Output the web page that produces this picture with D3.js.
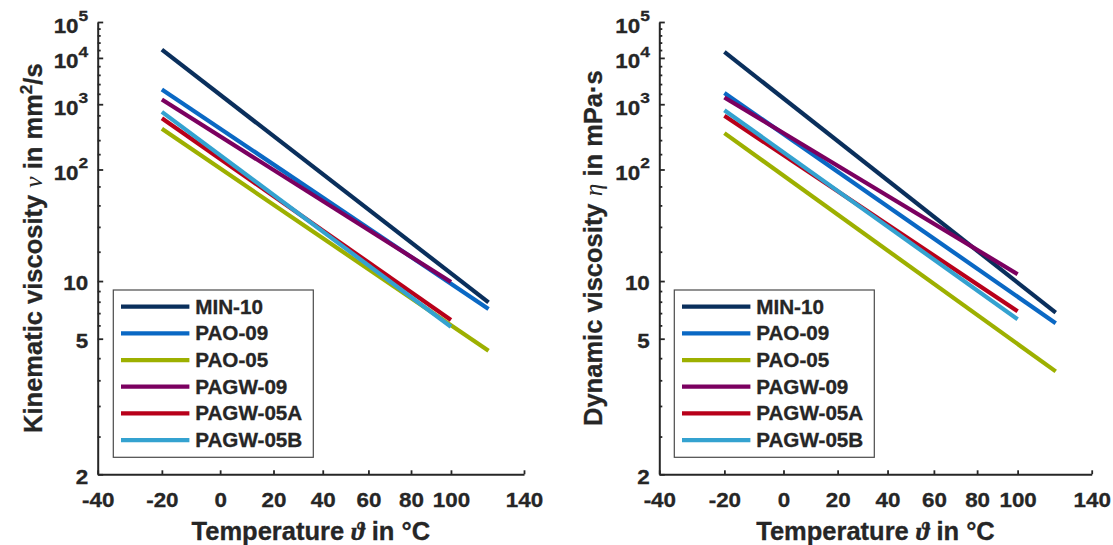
<!DOCTYPE html>
<html>
<head>
<meta charset="utf-8">
<script src="https://cdn.jsdelivr.net/npm/d3@7"></script>
<style>
  html, body { margin: 0; padding: 0; background: #fff; }
  svg text { font-family: "Liberation Sans", Arial, sans-serif; font-weight: bold; fill: #262626; stroke: #262626; stroke-width: 0.3px; }
  .greek { font-family: "Liberation Serif", "DejaVu Serif", serif; font-style: italic; font-weight: normal; stroke-width: 0; }
  .greek-bold { font-family: "Liberation Serif", "DejaVu Serif", serif; font-style: italic; font-weight: bold; }
</style>
</head>
<body>
<svg id="chart" width="1113" height="545"></svg>
<script>
// Oil grades, legend order
const oils = ["MIN-10", "PAO-09", "PAO-05", "PAGW-09", "PAGW-05A", "PAGW-05B"];
const oilColors = ["#0a2f5c", "#0a68c4", "#9db000", "#7b0060", "#b8001a", "#34a2d0"];

// Temperature range covered by each curve (°C)
const tempStart = [-20, -20, -20, -20, -20, -20];
const tempEnd   = [120, 120, 120, 100, 100, 100];

// Kinematic viscosity (mm²/s) at start and end temperature
const kinAtStart = [16200, 1940, 376, 1230, 564, 727];
const kinAtEnd   = [7.52, 6.93, 4.45, 9.87, 6.10, 5.66];

// Dynamic viscosity (mPa·s) at start and end temperature
const dynAtStart = [14200, 1650, 321, 1346, 622, 778];
const dynAtEnd   = [6.64, 5.88, 3.72, 11.05, 6.74, 6.15];

// Axis ticks
const tempTicks = [-40, -20, 0, 20, 40, 60, 80, 100, 140];
const viscTicks = [2, 5, 10, 100, 1000, 10000, 100000];
const viscTickLabels = [["2", null], ["5", null], ["10", null], ["10", "2"], ["10", "3"], ["10", "4"], ["10", "5"]];

// Temperature axis is logarithmic in (ϑ + offset); viscosity axis is log(log(v))
const T_OFFSET = 228;
const LL = v => Math.log10(Math.log10(v));

const svg = d3.select("#chart");
const INK = "#262626";
const TICK_FS = 20, TICK_SX = 1.12;

const panels = [
  { x0: 97.7, x1: 524, start: kinAtStart, end: kinAtEnd, legendX: 113.3,
    ylabX: 41.5, ylab: ["Kinematic viscosity ", "ν", " in mm", "2", "/s"] },
  { x0: 659.3, x1: 1091.7, start: dynAtStart, end: dynAtEnd, legendX: 674.3,
    ylabX: 602, ylab: ["Dynamic viscosity ", "η", " in mPa·s"] }
];

const yTop = 22, yBot = 474.3;

panels.forEach(p => {
  const g = svg.append("g");
  const xs = d3.scaleLog().domain([-40 + T_OFFSET, 140 + T_OFFSET]).range([p.x0, p.x1]);
  const x = t => xs(t + T_OFFSET);
  const ys = d3.scaleLinear().domain([LL(2), LL(1e5)]).range([yBot, yTop]);
  const y = v => ys(LL(v));

  // minor ticks: four per interval, evenly spaced in log10(v)
  const minor = [];
  for (let i = 0; i < viscTicks.length - 1; i++) {
    const a = Math.log10(viscTicks[i]), b = Math.log10(viscTicks[i + 1]);
    for (let k = 1; k <= 4; k++) minor.push(Math.pow(10, a + (b - a) * k / 5));
  }

  // y axis (minor ticks, then major ticks with domain line)
  const yMinor = g.append("g").attr("transform", `translate(${p.x0},0)`)
    .call(d3.axisLeft(ys).tickValues(minor.map(LL)).tickSizeInner(-3).tickSizeOuter(0).tickFormat(() => ""));
  yMinor.select(".domain").remove();
  const yMajor = g.append("g").attr("transform", `translate(${p.x0},0)`)
    .call(d3.axisLeft(ys).tickValues(viscTicks.map(LL)).tickSizeInner(-5.5).tickSizeOuter(0).tickFormat(() => ""));
  [yMinor, yMajor].forEach(ax => {
    ax.selectAll("line").attr("stroke", INK).attr("stroke-width", 1.8);
    ax.selectAll("path").attr("stroke", INK).attr("stroke-width", 2);
  });

  // y tick labels (right edge 9.5 px left of the axis)
  viscTicks.forEach((v, i) => {
    const [base, sup] = viscTickLabels[i];
    const t = g.append("text").attr("font-size", TICK_FS).attr("text-anchor", "end");
    if (sup) {
      t.attr("transform", `translate(${p.x0 - 9.5},${y(v) + 10.5}) scale(${TICK_SX},1)`);
      t.append("tspan").text(base);
      t.append("tspan").attr("dy", -11.8).attr("font-size", 15.5).text(sup);
    } else {
      t.attr("transform", `translate(${p.x0 - 9.5},${y(v) + 9.2}) scale(${TICK_SX},1)`).text(base);
    }
  });

  // x axis
  const xAx = g.append("g").attr("transform", `translate(0,${yBot})`)
    .call(d3.axisBottom(xs).tickValues(tempTicks.map(t => t + T_OFFSET))
      .tickSizeInner(-4).tickSizeOuter(0).tickFormat(d => String(Math.round(d - T_OFFSET))));
  xAx.selectAll("line").attr("stroke", INK).attr("stroke-width", 1.8);
  xAx.select(".domain").attr("stroke", INK).attr("stroke-width", 2);
  xAx.selectAll("text").attr("font-size", TICK_FS).attr("fill", INK)
    .attr("y", null).attr("dy", null)
    .attr("transform", `translate(0,32.6) scale(${TICK_SX},1)`)
    .style("font-family", '"Liberation Sans", Arial, sans-serif').style("font-weight", "bold");

  // axis titles
  const xl = g.append("text").attr("x", (p.x0 + p.x1) / 2).attr("y", 540)
    .attr("text-anchor", "middle").attr("font-size", 25.5);
  xl.append("tspan").text("Temperature ");
  xl.append("tspan").attr("class", "greek-bold").text("ϑ");
  xl.append("tspan").text(" in °C");

  const yl = g.append("text").attr("transform", `translate(${p.ylabX},${(yTop + yBot) / 2}) rotate(-90)`)
    .attr("text-anchor", "middle").attr("font-size", 25.5);
  p.ylab.forEach((part, i) => {
    const ts = yl.append("tspan").text(part);
    if (i === 1) ts.attr("class", "greek");
    if (part === "2") ts.attr("dy", -10).attr("font-size", 17);
    if (part === "/s") ts.attr("dy", 10);
  });

  // curves
  const line = d3.line().x(d => x(d.t)).y(d => y(d.v));
  oils.forEach((name, i) => {
    const pts = [{ t: tempStart[i], v: p.start[i] }, { t: tempEnd[i], v: p.end[i] }];
    g.append("path").datum(pts).attr("d", line)
      .attr("fill", "none").attr("stroke", oilColors[i]).attr("stroke-width", 4.2)
      .attr("stroke-linecap", "butt");
  });

  // legend
  const lg = g.append("g").attr("transform", `translate(${p.legendX},290)`);
  lg.append("rect").attr("x", 0).attr("y", 0).attr("width", 200).attr("height", 167.3)
    .attr("fill", "#fff").attr("stroke", "#4a4a4a").attr("stroke-width", 1.2);
  oils.forEach((name, i) => {
    const ly = 16.7 + i * 26.67;
    lg.append("line").attr("x1", 7.7).attr("x2", 76.1).attr("y1", ly).attr("y2", ly)
      .attr("stroke", oilColors[i]).attr("stroke-width", 4.2);
    lg.append("text").attr("transform", `translate(81.9,${ly + 7}) scale(1.06,1)`)
      .attr("font-size", 19.5).text(name);
  });
});
</script>
</body>
</html>
